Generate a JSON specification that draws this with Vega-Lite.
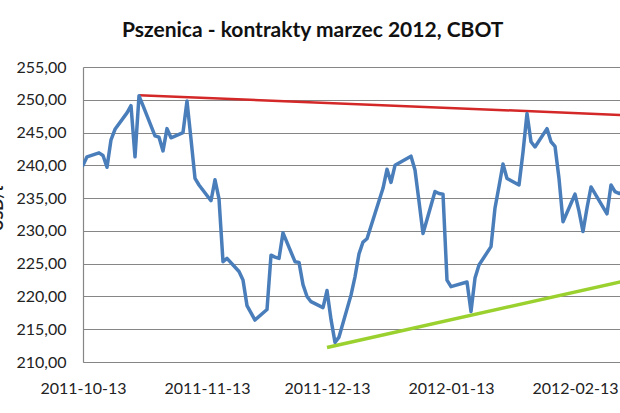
{
  "$schema": "https://vega.github.io/schema/vega-lite/v6.json",
  "autosize": {"type": "none"},
  "padding": {"left": 83, "top": 67, "right": 0, "bottom": 51},
  "width": 537,
  "height": 295,
  "background": "white",
  "title": {
    "text": "Pszenica - kontrakty marzec 2012, CBOT",
    "anchor": "start",
    "frame": "group",
    "dx": 39,
    "offset": 1,
    "baseline": "alphabetic",
    "font": "Lato",
    "fontSize": 21,
    "fontWeight": "bold",
    "color": "#111111"
  },
  "datasets": {
    "price": [
      {"date": "2011-10-13", "value": 240.0},
      {"date": "2011-10-14", "value": 241.3},
      {"date": "2011-10-17", "value": 241.9},
      {"date": "2011-10-18", "value": 241.5},
      {"date": "2011-10-19", "value": 239.7},
      {"date": "2011-10-20", "value": 243.9},
      {"date": "2011-10-21", "value": 245.5},
      {"date": "2011-10-24", "value": 248.0},
      {"date": "2011-10-25", "value": 249.1},
      {"date": "2011-10-26", "value": 241.3},
      {"date": "2011-10-27", "value": 250.6},
      {"date": "2011-10-28", "value": 249.1},
      {"date": "2011-10-31", "value": 244.5},
      {"date": "2011-11-01", "value": 244.3},
      {"date": "2011-11-02", "value": 242.2},
      {"date": "2011-11-03", "value": 245.6},
      {"date": "2011-11-04", "value": 244.2},
      {"date": "2011-11-07", "value": 245.0},
      {"date": "2011-11-08", "value": 249.8},
      {"date": "2011-11-09", "value": 244.0},
      {"date": "2011-11-10", "value": 238.0},
      {"date": "2011-11-11", "value": 237.0},
      {"date": "2011-11-14", "value": 234.6},
      {"date": "2011-11-15", "value": 237.8},
      {"date": "2011-11-16", "value": 234.9},
      {"date": "2011-11-17", "value": 225.3},
      {"date": "2011-11-18", "value": 225.8},
      {"date": "2011-11-21", "value": 223.8},
      {"date": "2011-11-22", "value": 222.5},
      {"date": "2011-11-23", "value": 218.6},
      {"date": "2011-11-25", "value": 216.4},
      {"date": "2011-11-28", "value": 218.0},
      {"date": "2011-11-29", "value": 226.3},
      {"date": "2011-11-30", "value": 226.0},
      {"date": "2011-12-01", "value": 225.8},
      {"date": "2011-12-02", "value": 229.7},
      {"date": "2011-12-05", "value": 225.3},
      {"date": "2011-12-06", "value": 225.2},
      {"date": "2011-12-07", "value": 221.8},
      {"date": "2011-12-08", "value": 220.0},
      {"date": "2011-12-09", "value": 219.2},
      {"date": "2011-12-12", "value": 218.3},
      {"date": "2011-12-13", "value": 220.9},
      {"date": "2011-12-14", "value": 216.5},
      {"date": "2011-12-15", "value": 213.0},
      {"date": "2011-12-16", "value": 213.8},
      {"date": "2011-12-19", "value": 220.2},
      {"date": "2011-12-20", "value": 223.0},
      {"date": "2011-12-21", "value": 226.5},
      {"date": "2011-12-22", "value": 228.3},
      {"date": "2011-12-23", "value": 228.8},
      {"date": "2011-12-27", "value": 236.5},
      {"date": "2011-12-28", "value": 239.4},
      {"date": "2011-12-29", "value": 237.4},
      {"date": "2011-12-30", "value": 240.0},
      {"date": "2012-01-03", "value": 241.4},
      {"date": "2012-01-04", "value": 239.3},
      {"date": "2012-01-05", "value": 234.5},
      {"date": "2012-01-06", "value": 229.6},
      {"date": "2012-01-09", "value": 236.0},
      {"date": "2012-01-10", "value": 235.7},
      {"date": "2012-01-11", "value": 235.6},
      {"date": "2012-01-12", "value": 222.5},
      {"date": "2012-01-13", "value": 221.5},
      {"date": "2012-01-17", "value": 222.2},
      {"date": "2012-01-18", "value": 217.7},
      {"date": "2012-01-19", "value": 222.8},
      {"date": "2012-01-20", "value": 224.8},
      {"date": "2012-01-23", "value": 227.6},
      {"date": "2012-01-24", "value": 233.5},
      {"date": "2012-01-25", "value": 236.8},
      {"date": "2012-01-26", "value": 240.2},
      {"date": "2012-01-27", "value": 238.0},
      {"date": "2012-01-30", "value": 237.0},
      {"date": "2012-01-31", "value": 242.0},
      {"date": "2012-02-01", "value": 247.9},
      {"date": "2012-02-02", "value": 243.6},
      {"date": "2012-02-03", "value": 242.8},
      {"date": "2012-02-06", "value": 245.6},
      {"date": "2012-02-07", "value": 243.6},
      {"date": "2012-02-08", "value": 242.9},
      {"date": "2012-02-09", "value": 238.0},
      {"date": "2012-02-10", "value": 231.4},
      {"date": "2012-02-13", "value": 235.6},
      {"date": "2012-02-14", "value": 233.0},
      {"date": "2012-02-15", "value": 229.9},
      {"date": "2012-02-16", "value": 233.5},
      {"date": "2012-02-17", "value": 236.7},
      {"date": "2012-02-21", "value": 232.6},
      {"date": "2012-02-22", "value": 237.0},
      {"date": "2012-02-23", "value": 236.0},
      {"date": "2012-02-24", "value": 235.7},
      {"date": "2012-02-27", "value": 236.5}
    ],
    "resistance": [
      {"date": "2011-10-27", "value": 250.7},
      {"date": "2012-03-01", "value": 247.55}
    ],
    "support": [
      {"date": "2011-12-13", "value": 212.2},
      {"date": "2012-03-01", "value": 223.0}
    ]
  },
  "encoding": {
    "x": {
      "field": "date",
      "type": "temporal",
      "scale": {
        "type": "utc",
        "domain": [
          {"year": 2011, "month": 10, "date": 13, "utc": true},
          {"year": 2012, "month": 2, "date": 24, "hours": 6, "utc": true}
        ],
        "nice": false
      },
      "axis": {
        "title": null,
        "values": [
          {"year": 2011, "month": 10, "date": 13, "utc": true},
          {"year": 2011, "month": 11, "date": 13, "utc": true},
          {"year": 2011, "month": 12, "date": 13, "utc": true},
          {"year": 2012, "month": 1, "date": 13, "utc": true},
          {"year": 2012, "month": 2, "date": 13, "utc": true}
        ],
        "labelExpr": "utcFormat(datum.value, '%Y-%m-%d')",
        "labelFont": "Lato",
        "labelFontSize": 16,
        "labelColor": "#222222",
        "labelPadding": 18,
        "labelFlush": false,
        "labelOverlap": false,
        "labelBound": false,
        "ticks": false,
        "grid": false,
        "domainColor": "#868686",
        "domainWidth": 1.2
      }
    },
    "y": {
      "field": "value",
      "type": "quantitative",
      "scale": {"domain": [210, 255], "nice": false, "zero": false},
      "axis": {
        "title": "USD/t",
        "titleX": -81,
        "titleY": 141,
        "titleAngle": -90,
        "titleAlign": "center",
        "titleBaseline": "alphabetic",
        "titleFont": "Lato",
        "titleFontSize": 16,
        "titleFontWeight": "bold",
        "titleColor": "#222222",
        "values": [210, 215, 220, 225, 230, 235, 240, 245, 250, 255],
        "labelExpr": "replace(format(datum.value, '.2f'), '.', ',')",
        "labelFont": "Lato",
        "labelFontSize": 16,
        "labelColor": "#222222",
        "labelPadding": 17,
        "labelFlush": false,
        "labelOverlap": false,
        "ticks": false,
        "grid": true,
        "gridColor": "#868686",
        "gridWidth": 1.2,
        "domainColor": "#868686",
        "domainWidth": 1.2
      }
    }
  },
  "layer": [
    {
      "data": {"name": "resistance"},
      "mark": {"type": "line", "color": "#d42727", "strokeWidth": 2.5, "clip": true}
    },
    {
      "data": {"name": "support"},
      "mark": {"type": "line", "color": "#9ad12e", "strokeWidth": 3.5, "clip": true}
    },
    {
      "data": {"name": "price"},
      "mark": {"type": "line", "color": "#4a7ebb", "strokeWidth": 3.5, "strokeJoin": "round", "strokeCap": "round", "clip": true}
    }
  ],
  "config": {
    "view": {"stroke": null}
  }
}
